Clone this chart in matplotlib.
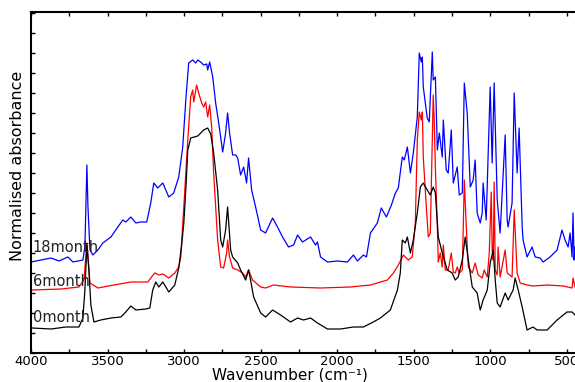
import matplotlib
matplotlib.use("Agg")
import matplotlib.pyplot as plt
from matplotlib.ticker import MultipleLocator

# 0 month spectrum (wavenumber, normalised absorbance)
wn_0 = [3993, 3870, 3772, 3687, 3661, 3648, 3635, 3622, 3609, 3589, 3544, 3478, 3413, 3381,
        3348, 3315, 3250, 3224, 3205, 3185, 3165, 3139, 3100, 3061, 3035, 3016, 3002, 2989,
        2976, 2957, 2911, 2872, 2846, 2826, 2807, 2781, 2761, 2748, 2729, 2716, 2709, 2696,
        2683, 2650, 2631, 2598, 2579, 2566, 2546, 2500, 2468, 2422, 2370, 2305, 2259, 2220,
        2174, 2129, 2064, 1979, 1894, 1829, 1764, 1718, 1653, 1607, 1588, 1575, 1555, 1542,
        1522, 1503, 1477, 1457, 1438, 1412, 1392, 1373, 1359, 1340, 1314, 1281, 1249, 1229,
        1210, 1183, 1164, 1144, 1118, 1086, 1066, 1047, 1020, 1001, 981, 968, 955, 936, 903,
        884, 851, 838, 818, 792, 760, 721, 694, 629, 564, 499, 466, 447]
abs_0 = [0.25, 0.24, 0.26, 0.26, 0.35, 0.63, 1.08, 0.83, 0.48, 0.31, 0.33, 0.35, 0.36, 0.41,
         0.47, 0.43, 0.44, 0.45, 0.63, 0.71, 0.66, 0.71, 0.61, 0.68, 0.85, 1.08, 1.30, 1.63,
         2.03, 2.15, 2.17, 2.23, 2.25, 2.19, 2.00, 1.63, 1.13, 1.06, 1.23, 1.46, 1.31, 1.03,
         0.96, 0.90, 0.83, 0.73, 0.83, 0.73, 0.56, 0.40, 0.36, 0.43, 0.38, 0.31, 0.35, 0.33,
         0.35, 0.30, 0.24, 0.24, 0.26, 0.26, 0.31, 0.35, 0.43, 0.63, 0.80, 1.13, 1.10, 1.16,
         1.00, 1.13, 1.40, 1.66, 1.70, 1.63, 1.58, 1.66, 1.60, 1.16, 1.00, 0.83, 0.80, 0.73,
         0.76, 0.93, 1.16, 0.93, 0.66, 0.60, 0.43, 0.53, 0.63, 0.90, 1.03, 0.73, 0.50, 0.46, 0.60,
         0.53, 0.63, 0.75, 0.63, 0.46, 0.23, 0.26, 0.23, 0.23, 0.33, 0.41, 0.41, 0.38]

# 6 month spectrum
wn_6 = [3993, 3804, 3687, 3654, 3641, 3635, 3628, 3615, 3563, 3459, 3348, 3237, 3218, 3192,
        3165, 3139, 3100, 3061, 3035, 3022, 3002, 2976, 2957, 2944, 2937, 2918, 2905, 2885,
        2872, 2859, 2846, 2833, 2820, 2807, 2781, 2761, 2742, 2722, 2716, 2703, 2683, 2650,
        2618, 2598, 2579, 2553, 2500, 2468, 2416, 2305, 2109, 1914, 1783, 1718, 1672, 1633,
        1601, 1568, 1536, 1510, 1490, 1477, 1464, 1451, 1444, 1438, 1418, 1405, 1392, 1379,
        1373, 1366, 1359, 1346, 1340, 1327, 1314, 1307, 1294, 1275, 1255, 1242, 1229, 1216,
        1203, 1183, 1170, 1157, 1144, 1118, 1099, 1079, 1053, 1040, 1020, 1007, 994, 988, 981,
        975, 968, 955, 949, 936, 903, 890, 858, 844, 825, 805, 760, 721, 629, 525, 466, 460, 447]
abs_6 = [0.63, 0.64, 0.66, 0.73, 0.98, 1.10, 0.98, 0.70, 0.65, 0.68, 0.71, 0.71, 0.75, 0.80,
         0.78, 0.79, 0.75, 0.80, 0.86, 0.96, 1.46, 2.13, 2.56, 2.63, 2.51, 2.68, 2.60, 2.50,
         2.46, 2.51, 2.36, 2.48, 2.26, 1.80, 1.13, 0.86, 0.85, 1.00, 1.13, 0.96, 0.85, 0.83,
         0.80, 0.76, 0.83, 0.73, 0.66, 0.65, 0.68, 0.66, 0.65, 0.66, 0.68, 0.71, 0.73, 0.80,
         0.88, 0.98, 0.93, 0.96, 1.30, 2.13, 2.41, 2.33, 2.41, 1.96, 1.46, 1.16, 1.20, 2.13,
         2.58, 2.30, 1.86, 1.26, 0.91, 1.00, 0.86, 1.08, 0.83, 0.83, 1.00, 0.81, 0.80, 0.86,
         0.80, 0.83, 1.73, 1.26, 0.86, 0.80, 0.90, 0.78, 0.75, 0.83, 0.76, 1.00, 1.61, 1.03, 0.93,
         1.71, 0.83, 0.78, 1.06, 0.76, 1.03, 0.80, 0.76, 1.43, 0.80, 0.70, 0.68, 0.67, 0.68,
         0.67, 0.65, 0.75, 0.66]

# 18 month spectrum
wn_18 = [4000, 3935, 3870, 3817, 3759, 3726, 3661, 3648, 3635, 3628, 3615, 3596, 3563, 3531,
         3478, 3433, 3400, 3381, 3348, 3315, 3283, 3244, 3218, 3198, 3172, 3139, 3100, 3068,
         3035, 3009, 2989, 2970, 2944, 2924, 2911, 2892, 2872, 2852, 2846, 2833, 2813, 2794,
         2774, 2748, 2729, 2716, 2703, 2683, 2663, 2650, 2631, 2611, 2592, 2579, 2559, 2533,
         2500, 2468, 2422, 2390, 2357, 2318, 2285, 2259, 2227, 2174, 2142, 2129, 2109, 2064,
         1998, 1933, 1894, 1868, 1829, 1809, 1783, 1738, 1712, 1679, 1646, 1620, 1601, 1575,
         1562, 1542, 1522, 1503, 1477, 1464, 1451, 1444, 1438, 1412, 1399, 1379, 1373, 1359,
         1346, 1333, 1314, 1307, 1288, 1275, 1255, 1242, 1216, 1203, 1183, 1170, 1151, 1131,
         1112, 1099, 1086, 1066, 1053, 1047, 1027, 1001, 988, 975, 955, 936, 903, 890, 884,
         858, 844, 825, 812, 792, 786, 760, 727, 707, 675, 655, 610, 564, 532, 512, 492, 479,
         466, 460, 453, 447]
abs_18 = [0.91, 0.93, 0.95, 0.92, 0.96, 0.91, 0.93, 1.06, 1.88, 1.46, 1.03, 0.98, 1.03, 1.10,
          1.16, 1.26, 1.33, 1.31, 1.36, 1.30, 1.31, 1.31, 1.50, 1.70, 1.65, 1.70, 1.56, 1.60,
          1.76, 2.06, 2.53, 2.90, 2.93, 2.90, 2.93, 2.91, 2.88, 2.89, 2.83, 2.91, 2.76, 2.50,
          2.30, 2.01, 2.20, 2.40, 2.20, 1.98, 1.98, 1.95, 1.78, 1.86, 1.70, 1.95, 1.63, 1.46,
          1.23, 1.20, 1.35, 1.26, 1.16, 1.06, 1.08, 1.18, 1.11, 1.16, 1.08, 1.11, 0.96, 0.91,
          0.92, 0.91, 0.98, 0.92, 0.98, 0.96, 1.20, 1.30, 1.45, 1.36, 1.48, 1.60, 1.65, 1.96,
          1.93, 2.06, 1.80, 2.00, 2.36, 3.00, 2.91, 2.96, 2.66, 2.35, 2.31, 3.01, 2.73, 2.76,
          2.03, 2.20, 1.96, 2.33, 1.83, 1.80, 2.23, 1.70, 1.86, 1.58, 1.60, 2.70, 2.40, 1.66,
          1.73, 1.93, 1.40, 1.30, 1.40, 1.70, 1.33, 2.66, 1.90, 2.70, 1.53, 1.20, 2.18, 1.33, 1.26,
          1.50, 2.60, 1.80, 2.25, 1.26, 1.13, 0.96, 1.06, 0.96, 0.95, 0.91, 0.96, 1.03, 1.23, 1.13,
          1.06, 1.20, 0.96, 1.40, 0.93, 1.06]

labels = ["18month", "6month", "0month"]
label_y = [1.05, 0.71, 0.35]

fig = plt.figure(figsize=(5.75, 3.82), dpi=100)
ax = fig.add_axes([31 / 575, 29 / 382, 1 - 31 / 575, 341 / 382])

ax.plot(wn_18, abs_18, color="#0000ff", lw=0.9)
ax.plot(wn_6, abs_6, color="#ff0000", lw=0.9)
ax.plot(wn_0, abs_0, color="black", lw=0.9)

for lab, yy in zip(labels, label_y):
    ax.text(3988, yy, lab, fontsize=10.5, va="center", ha="left", color="#222222")

ax.set_xlim(4000, 447)
ax.set_ylim(0, 3.41)
ax.xaxis.set_major_locator(MultipleLocator(500))
ax.xaxis.set_minor_locator(MultipleLocator(250))
ax.yaxis.set_major_locator(MultipleLocator(0.2))
ax.set_yticklabels([])
ax.tick_params(axis="both", which="both", direction="in", top=True, width=1)
ax.tick_params(axis="x", which="major", length=3, labelsize=9.5, pad=1.5)
ax.tick_params(axis="x", which="minor", length=3)
ax.tick_params(axis="y", length=3)
ax.spines["right"].set_visible(False)
for s in ["left", "bottom", "top"]:
    ax.spines[s].set_linewidth(1.5)

ax.set_xlabel("Wavenumber (cm\u207b\u00b9)", fontsize=11)
ax.xaxis.set_label_coords(0.476, -0.042)
ax.set_ylabel("Normalised absorbance", fontsize=11.5)
ax.yaxis.set_label_coords(-0.011, 0.55)

fig.savefig("out.png", dpi=100)
